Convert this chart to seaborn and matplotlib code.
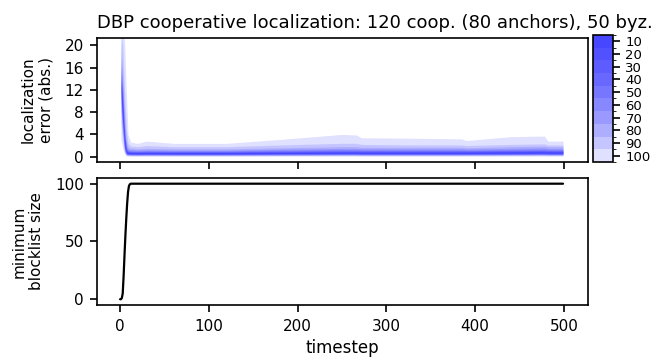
import numpy as np
import pandas as pd
import matplotlib
matplotlib.use("Agg")
import matplotlib.pyplot as plt
import seaborn as sns
from matplotlib.colors import ListedColormap, BoundaryNorm, to_rgb

# --- data ---
timesteps = [1, 3, 5, 7, 9, 12, 20, 30, 60, 120, 180, 250, 266, 272, 340, 385, 390, 440, 478, 482, 499]

# percentile bands: lower / upper edge of the central p% of the runs
band_hi = {
    100: [23, 23, 21, 12, 4.0, 2.6, 2.4, 2.8, 2.4, 2.4, 3.1, 4.0, 3.9, 3.4, 3.3, 3.2, 2.9, 3.6, 3.7, 2.8, 2.8],
    90: [22, 20, 12, 5, 2.4, 1.9, 1.8, 2.0, 1.8, 1.8, 2.1, 2.4, 2.4, 2.2, 2.1, 2.1, 2.0, 2.2, 2.3, 2.1, 2.1],
    80: [20, 15, 8, 3, 1.7, 1.5, 1.4, 1.5, 1.4, 1.4, 1.6, 1.8, 1.8, 1.7, 1.7, 1.7, 1.6, 1.8, 1.9, 1.8, 1.8],
    70: [18, 13, 6, 2.2, 1.4, 1.25, 1.2, 1.25, 1.2, 1.2, 1.35, 1.5, 1.5, 1.45, 1.45, 1.45, 1.4, 1.5, 1.6, 1.5, 1.5],
    60: [17, 12, 5, 1.8, 1.2, 1.1, 1.05, 1.1, 1.05, 1.05, 1.2, 1.3, 1.3, 1.25, 1.25, 1.25, 1.2, 1.3, 1.4, 1.3, 1.3],
    50: [16, 11, 4.5, 1.5, 1.05, 0.98, 0.95, 0.98, 0.95, 0.95, 1.05, 1.15, 1.15, 1.1, 1.1, 1.1, 1.1, 1.15, 1.2, 1.15, 1.15],
    40: [15, 10, 4, 1.3, 0.95, 0.9, 0.88, 0.9, 0.88, 0.88, 0.95, 1.0, 1.0, 1.0, 1.0, 1.0, 1.0, 1.05, 1.1, 1.05, 1.05],
    30: [14.5, 9.5, 3.6, 1.15, 0.88, 0.82, 0.8, 0.82, 0.8, 0.8, 0.87, 0.92, 0.92, 0.9, 0.9, 0.9, 0.9, 0.95, 1.0, 0.95, 0.95],
    20: [14, 9, 3.3, 1.05, 0.8, 0.76, 0.74, 0.76, 0.74, 0.74, 0.8, 0.85, 0.85, 0.83, 0.83, 0.83, 0.83, 0.87, 0.9, 0.87, 0.87],
    10: [13.5, 8.5, 3.0, 0.95, 0.74, 0.7, 0.68, 0.7, 0.68, 0.68, 0.73, 0.78, 0.78, 0.76, 0.76, 0.76, 0.76, 0.8, 0.83, 0.8, 0.8],
}
band_lo = {
    10: [12.5, 7.5, 2.5, 0.8, 0.63, 0.6, 0.58, 0.6, 0.58, 0.58, 0.62, 0.66, 0.66, 0.64, 0.64, 0.64, 0.64, 0.67, 0.7, 0.67, 0.67],
    20: [12, 7, 2.2, 0.72, 0.58, 0.55, 0.53, 0.55, 0.53, 0.53, 0.57, 0.6, 0.6, 0.58, 0.58, 0.58, 0.58, 0.61, 0.64, 0.61, 0.61],
    30: [11.5, 6.5, 2.0, 0.65, 0.53, 0.5, 0.48, 0.5, 0.48, 0.48, 0.52, 0.55, 0.55, 0.53, 0.53, 0.53, 0.53, 0.56, 0.58, 0.56, 0.56],
    40: [11, 6, 1.8, 0.58, 0.48, 0.45, 0.43, 0.45, 0.43, 0.43, 0.47, 0.5, 0.5, 0.48, 0.48, 0.48, 0.48, 0.5, 0.52, 0.5, 0.5],
    50: [10.5, 5.5, 1.6, 0.52, 0.43, 0.4, 0.39, 0.4, 0.39, 0.39, 0.42, 0.45, 0.45, 0.43, 0.43, 0.43, 0.43, 0.45, 0.47, 0.45, 0.45],
    60: [10, 5, 1.4, 0.46, 0.38, 0.36, 0.35, 0.36, 0.35, 0.35, 0.37, 0.4, 0.4, 0.38, 0.38, 0.38, 0.38, 0.4, 0.42, 0.4, 0.4],
    70: [9, 4.5, 1.2, 0.4, 0.33, 0.31, 0.3, 0.31, 0.3, 0.3, 0.32, 0.35, 0.35, 0.33, 0.33, 0.33, 0.33, 0.35, 0.37, 0.35, 0.35],
    80: [8, 4, 1.0, 0.34, 0.28, 0.26, 0.25, 0.26, 0.25, 0.25, 0.27, 0.29, 0.29, 0.28, 0.28, 0.28, 0.28, 0.3, 0.31, 0.3, 0.3],
    90: [6, 3, 0.8, 0.27, 0.22, 0.2, 0.19, 0.2, 0.19, 0.19, 0.21, 0.22, 0.22, 0.21, 0.21, 0.21, 0.21, 0.23, 0.24, 0.23, 0.23],
    100: [3, 1.5, 0.5, 0.15, 0.1, 0.08, 0.08, 0.08, 0.08, 0.08, 0.09, 0.1, 0.1, 0.09, 0.09, 0.09, 0.09, 0.1, 0.1, 0.1, 0.1],
}
bands = [100, 90, 80, 70, 60, 50, 40, 30, 20, 10]

block_t = [0, 1, 2, 3, 4, 5, 6, 7, 8, 9, 10, 11, 12, 13, 499]
block_size = [0, 0, 1, 5, 20, 38, 55, 70, 83, 93, 98, 99.5, 100, 100, 100]

title = "DBP cooperative localization: 120 coop. (80 anchors), 50 byz."

# --- style ---
sns.set_style("ticks")
plt.rcParams["font.family"] = ["DejaVu Sans"]
for key in ["text.color", "axes.labelcolor", "xtick.color", "ytick.color", "axes.edgecolor"]:
    plt.rcParams[key] = "black"
plt.rcParams["axes.linewidth"] = 1.2
plt.rcParams["xtick.major.width"] = 1.2
plt.rcParams["ytick.major.width"] = 1.2
plt.rcParams["xtick.major.size"] = 5
plt.rcParams["ytick.major.size"] = 5
plt.rcParams["xtick.major.pad"] = 5
plt.rcParams["ytick.major.pad"] = 4.5

band_color = "#0000ff"
alpha = 0.12

fig = plt.figure(figsize=(6.67, 3.62), dpi=100)
ax1 = fig.add_axes([0.1454, 0.5525, 0.736, 0.3425])
ax2 = fig.add_axes([0.1454, 0.1575, 0.736, 0.351], sharex=ax1)
cax = fig.add_axes([0.889, 0.5525, 0.030, 0.351])

# --- localization error bands ---
for p in bands:
    ax1.fill_between(timesteps, band_lo[p], band_hi[p], color=band_color, alpha=alpha, lw=0)
ax1.set_ylim(-0.95, 21.3)
ax1.set_yticks([0, 4, 8, 12, 16, 20])
ax1.set_ylabel("localization\nerror (abs.)", fontsize=11, labelpad=8)
ax1.tick_params(labelbottom=False, labelsize=11)
ax1.set_title(title, fontsize=13, pad=7, loc="left")

# colorbar matching the stacked alpha shades
shades = []
for p in sorted(bands):
    n = (110 - p) // 10
    f = 1 - (1 - alpha) ** n
    shades.append(tuple(1 - f * (1 - c) for c in to_rgb(band_color)))
cmap = ListedColormap(shades)
norm = BoundaryNorm([5, 15, 25, 35, 45, 55, 65, 75, 85, 95, 105], cmap.N)
cb = fig.colorbar(matplotlib.cm.ScalarMappable(norm=norm, cmap=cmap), cax=cax,
                  ticks=sorted(bands))
cb.ax.invert_yaxis()
cb.ax.tick_params(labelsize=9.5, length=5, width=1.2, pad=4)
cb.outline.set_linewidth(1.2)

# --- blocklist size ---
df_block = pd.DataFrame({"timestep": block_t, "size": block_size})
sns.lineplot(data=df_block, x="timestep", y="size", color="black", lw=1.6, ax=ax2)
ax2.set_ylim(-5, 105)
ax2.set_yticks([0, 50, 100])
ax2.set_xlim(-26, 527)
ax2.set_xticks([0, 100, 200, 300, 400, 500])
ax2.set_ylabel("minimum\nblocklist size", fontsize=11, labelpad=8)
ax2.set_xlabel("timestep", fontsize=12)
ax2.tick_params(labelsize=11)

fig.align_ylabels([ax1, ax2])
fig.savefig("out.png", dpi=100)
